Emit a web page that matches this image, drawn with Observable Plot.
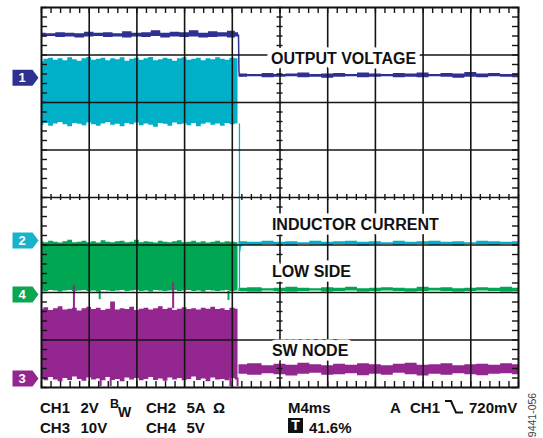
<!DOCTYPE html>
<html><head><meta charset="utf-8">
<script src="https://cdn.jsdelivr.net/npm/d3@7"></script>
<script src="https://cdn.jsdelivr.net/npm/@observablehq/plot@0.6"></script>
<style>
body{margin:0;background:#fff;}
#wrap{position:relative;width:543px;height:438px;font-family:"Liberation Sans",Arial,sans-serif;font-weight:bold;color:#111;overflow:hidden;}
#wrap svg{display:block}
.t{position:absolute;font-size:15px;line-height:15px;white-space:pre;}
</style></head><body><div id="wrap"><div id="chart"></div>
<span class="t" style="left:40px;top:400px">CH1</span>
<span class="t" style="left:80.5px;top:400px">2V</span>
<span class="t" style="left:110px;top:397.5px;font-size:12.5px;line-height:12px">B</span>
<span class="t" style="left:118px;top:405px;font-size:14px;line-height:14px">W</span>
<span class="t" style="left:146px;top:400px">CH2</span>
<span class="t" style="left:186.5px;top:400px">5A</span>
<span class="t" style="left:213px;top:400px">Ω</span>
<span class="t" style="left:288px;top:400px">M4ms</span>
<span class="t" style="left:390px;top:400px">A</span>
<span class="t" style="left:410px;top:400px">CH1</span>
<svg style="position:absolute;left:443px;top:398px" width="22" height="18"><polyline points="2,3 8,3 13,14.5 20,14.5" fill="none" stroke="#111" stroke-width="2"/></svg>
<span class="t" style="left:469px;top:400px">720mV</span>
<span class="t" style="left:40px;top:420px">CH3</span>
<span class="t" style="left:80.5px;top:420px">10V</span>
<span class="t" style="left:146px;top:420px">CH4</span>
<span class="t" style="left:186.5px;top:420px">5V</span>
<span class="t" style="left:288px;top:418px;width:15px;height:15px;background:#111;color:#fff;text-align:center;font-size:14px;line-height:15px">T</span>
<span class="t" style="left:309px;top:420px">41.6%</span>
<span class="t" style="left:531.5px;top:414.5px;font-size:10.5px;line-height:11px;font-weight:normal;color:#444;transform:translate(-50%,-50%) rotate(-90deg)">9441-056</span>
</div>
<script>
// time samples in screen divisions (10 div = 40 ms at 4 ms/div)
const tPre = [0,0.1,0.2,0.3,0.4,0.5,0.6,0.7,0.8,0.9,1.0,1.1,1.2,1.3,1.4,1.5,1.6,1.7,1.8,1.9,2.0,2.1,2.2,2.3,2.4,2.5,2.6,2.7,2.8,2.9,3.0,3.1,3.2,3.3,3.4,3.5,3.6,3.7,3.8,3.9,4.0,4.12];
const tPreCoarse = [0,0.2,0.4,0.6,0.8,1.0,1.2,1.4,1.6,1.8,2.0,2.2,2.4,2.6,2.8,3.0,3.2,3.4,3.6,3.8,4.0,4.13];
const tPost = [4.14,4.5,4.75,5,5.25,5.5,5.75,6,6.25,6.5,6.75,7,7.25,7.5,7.75,8,8.25,8.5,8.75,9,9.25,9.5,9.75,10];

// CH1 output voltage (divisions)
const ch1PreHigh = [3.46,3.45,3.47,3.46,3.45,3.48,3.46,3.47,3.45,3.49,3.46,3.47,3.51,3.46,3.48,3.47,3.51,3.46,3.49,3.47,3.50,3.47];
const ch1PreLow  = [3.38,3.39,3.37,3.38,3.36,3.38,3.39,3.37,3.38,3.36,3.38,3.37,3.39,3.36,3.38,3.37,3.38,3.36,3.37,3.38,3.36,3.38];
const ch1PostHigh = [2.60,2.59,2.61,2.59,2.60,2.62,2.59,2.60,2.61,2.59,2.62,2.60,2.59,2.61,2.60,2.62,2.59,2.61,2.60,2.63,2.60,2.61,2.59,2.60];
const ch1PostLow  = [2.53,2.54,2.52,2.53,2.54,2.52,2.53,2.51,2.53,2.54,2.52,2.53,2.54,2.52,2.53,2.52,2.54,2.53,2.51,2.53,2.52,2.54,2.53,2.52];
const ch1DropT = [4.13,4.14,4.16,4.2];
const ch1DropV = [3.42,2.64,2.57,2.56];

// CH2 inductor current
const ch2PreHigh = [2.86,2.91,2.93,2.89,2.92,2.88,2.94,2.90,2.87,2.92,2.95,2.89,2.91,2.93,2.88,2.92,2.90,2.94,2.87,2.91,2.93,2.89,2.92,2.95,2.88,2.90,2.93,2.91,2.87,2.92,2.94,2.89,2.91,2.93,2.88,2.92,2.90,2.94,2.91,2.89,2.93,2.92];
const ch2PreLow  = [1.52,1.56,1.50,1.55,1.58,1.53,1.49,1.56,1.54,1.51,1.57,1.53,1.50,1.55,1.58,1.52,1.54,1.49,1.56,1.53,1.57,1.51,1.55,1.52,1.48,1.56,1.54,1.50,1.57,1.53,1.55,1.51,1.56,1.49,1.54,1.57,1.52,1.55,1.50,1.56,1.53,1.55];
const ch2PostHigh = [-0.93,-0.94,-0.92,-0.94,-0.93,-0.95,-0.92,-0.94,-0.93,-0.92,-0.94,-0.93,-0.95,-0.92,-0.94,-0.93,-0.92,-0.94,-0.93,-0.95,-0.92,-0.93,-0.94,-0.93];
const ch2PostLow  = [-1.00,-1.01,-0.99,-1.00,-1.02,-0.99,-1.00,-1.01,-0.99,-1.00,-1.02,-1.00,-0.99,-1.01,-1.00,-0.99,-1.01,-1.00,-1.02,-0.99,-1.00,-1.01,-0.99,-1.00];
const ch2DropT = [4.15,4.15];
const ch2DropV = [1.55,-1.95];
const ch2KneeT = [4.15,4.17,4.2,4.25];
const ch2KneeV = [-1.15,-1.04,-0.99,-0.97];

// CH4 low side gate
const ch4PreHigh = [-0.93,-0.95,-0.92,-0.94,-0.96,-0.93,-0.90,-0.95,-0.94,-0.92,-0.95,-0.93,-0.96,-0.91,-0.94,-0.95,-0.93,-0.92,-0.95,-0.94,-0.90,-0.95,-0.93,-0.94,-0.96,-0.92,-0.94,-0.95,-0.93,-0.91,-0.95,-0.94,-0.92,-0.95,-0.93,-0.96,-0.94,-0.92,-0.95,-0.93,-0.94,-0.95];
const ch4PreLow  = [-1.97,-1.98,-1.96,-1.97,-1.99,-1.97,-1.96,-1.98,-1.97,-1.96,-1.98,-1.97,-1.99,-1.96,-1.97,-1.98,-1.97,-1.96,-1.98,-1.97,-1.96,-1.98,-1.97,-1.99,-1.96,-1.97,-1.98,-1.97,-1.96,-1.98,-1.97,-1.96,-1.98,-1.97,-1.99,-1.96,-1.97,-1.98,-1.97,-1.96,-1.98,-1.97];
const ch4PostHigh = [-1.91,-1.90,-1.92,-1.91,-1.89,-1.91,-1.92,-1.90,-1.91,-1.89,-1.92,-1.91,-1.90,-1.91,-1.92,-1.89,-1.91,-1.90,-1.92,-1.91,-1.90,-1.91,-1.89,-1.91];
const ch4PostLow  = [-1.98,-1.99,-1.97,-1.98,-1.99,-1.98,-1.97,-1.99,-1.98,-1.97,-1.99,-1.98,-1.97,-1.98,-1.99,-1.98,-1.97,-1.98,-1.99,-1.98,-1.97,-1.98,-1.99,-1.98];

// CH3 switch node
const ch3PreHigh = [-2.36,-2.32,-2.38,-2.34,-2.30,-2.37,-2.35,-2.33,-2.39,-2.34,-2.31,-2.36,-2.33,-2.38,-2.35,-2.20,-2.37,-2.34,-2.36,-2.31,-2.38,-2.35,-2.33,-2.37,-2.34,-2.30,-2.36,-2.33,-2.38,-2.35,-2.32,-2.36,-2.34,-2.37,-2.33,-2.35,-2.31,-2.36,-2.34,-2.38,-2.33,-2.35];
const ch3PreLow  = [-3.82,-3.86,-3.79,-3.84,-3.88,-3.81,-3.85,-3.78,-3.83,-3.87,-3.80,-3.84,-3.82,-3.86,-3.79,-3.85,-3.83,-3.88,-3.80,-3.84,-3.81,-3.86,-3.83,-3.79,-3.85,-3.82,-3.87,-3.80,-3.84,-3.81,-3.86,-3.83,-3.78,-3.85,-3.82,-3.88,-3.80,-3.84,-3.83,-3.86,-3.81,-3.84];
const ch3PostHigh = [-3.52,-3.50,-3.54,-3.51,-3.53,-3.49,-3.52,-3.54,-3.51,-3.53,-3.50,-3.52,-3.54,-3.51,-3.49,-3.53,-3.52,-3.50,-3.54,-3.52,-3.51,-3.53,-3.50,-3.52];
const ch3PostLow  = [-3.72,-3.74,-3.71,-3.73,-3.76,-3.72,-3.70,-3.74,-3.73,-3.71,-3.75,-3.72,-3.74,-3.70,-3.73,-3.76,-3.72,-3.74,-3.71,-3.73,-3.75,-3.72,-3.71,-3.73];

// glitches
const spikeT    = [0.68,2.76,1.24,1.45,3.96,4.11,1.22,3.92];
const spikeFrom = [-2.34,-2.34,-3.80,-3.80,-3.80,-3.80,-1.97,-1.97];
const spikeTo   = [-1.85,-1.80,-3.98,-3.98,-3.98,-3.98,-2.15,-2.17];
const spikeCh   = ["CH3","CH3","CH3","CH3","CH3","CH3","CH4","CH4"];

// trace labels
const labelText = ["OUTPUT VOLTAGE","INDUCTOR CURRENT","LOW SIDE","SW NODE"];
const labelT = [4.81,4.83,4.83,4.83];
const labelV = [2.91,-0.57,-1.56,-3.23];

// channel ground markers
const markerName = ["1","2","4","3"];
const markerV = [2.52,-0.905,-2.04,-3.81];

const gridX = [1,2,3,4,5,6,7,8,9];
const gridY = [-3,-2,-1,0,1,2,3];
const minorX = d3.range(0, 10.001, 0.2);
const minorY = d3.range(-4, 4.001, 0.2);

const BLUE = "#2e3192", CYAN = "#00b0c9", GREEN = "#00a651", PURPLE = "#93278f";
const chColor = {CH1: BLUE, CH2: CYAN, CH3: PURPLE, CH4: GREEN};
const markerColor = [BLUE, "#17b3cd", "#0aa650", PURPLE];

const band = (t, lo, hi, color) => Plot.areaY(t, {x: d => d, y1: (d, i) => lo[i], y2: (d, i) => hi[i], fill: color, curve: "step"});

const pent = {draw(ctx) { ctx.moveTo(-13,-8); ctx.lineTo(7,-8); ctx.lineTo(13,0); ctx.lineTo(7,8); ctx.lineTo(-13,8); ctx.closePath(); }};
const markerT = -0.335;
const GRID = "#151515";

const chart = Plot.plot({
  width: 543, height: 395,
  marginLeft: 41, marginRight: 25, marginTop: 7, marginBottom: 8,
  x: {domain: [0, 10], axis: null},
  y: {domain: [-4, 4], axis: null},
  style: {background: "white", overflow: "visible"},
  marks: [
    band(tPre, ch2PreLow, ch2PreHigh, CYAN),
    band(tPreCoarse, ch1PreLow, ch1PreHigh, BLUE),
    band(tPost, ch1PostLow, ch1PostHigh, BLUE),
    Plot.line(ch1DropT, {x: d => d, y: (d, i) => ch1DropV[i], stroke: BLUE, strokeWidth: 1.5}),
    band(tPre, ch4PreLow, ch4PreHigh, GREEN),
    band(tPost, ch4PostLow, ch4PostHigh, GREEN),
    Plot.line(ch2DropT, {x: d => d, y: (d, i) => ch2DropV[i], stroke: CYAN, strokeWidth: 1.3}),
    Plot.line(ch2KneeT, {x: d => d, y: (d, i) => ch2KneeV[i], stroke: CYAN, strokeWidth: 1.3}),
    band(tPost, ch2PostLow, ch2PostHigh, CYAN),
    band(tPre, ch3PreLow, ch3PreHigh, PURPLE),
    band(tPost, ch3PostLow, ch3PostHigh, PURPLE),
    Plot.ruleX(spikeT, {x: d => d, y1: (d, i) => spikeFrom[i], y2: (d, i) => spikeTo[i], stroke: (d, i) => chColor[spikeCh[i]], strokeWidth: 2}),
    // graticule
    Plot.ruleX(gridX, {x: d => d, stroke: GRID, strokeWidth: 1.6}),
    Plot.ruleY(gridY, {y: d => d, stroke: GRID, strokeWidth: 1.6}),
    Plot.ruleX(minorX, {x: d => d, y1: 0, y2: 0, insetTop: -3, insetBottom: -3, stroke: GRID, strokeWidth: 1.4}),
    Plot.ruleY(minorY, {y: d => d, x1: 5, x2: 5, insetLeft: -3, insetRight: -3, stroke: GRID, strokeWidth: 1.4}),
    Plot.ruleX(minorX, {x: d => d, y1: 4, y2: 4, insetBottom: -6, stroke: GRID, strokeWidth: 1.4}),
    Plot.ruleX(minorX, {x: d => d, y1: -4, y2: -4, insetTop: -6, stroke: GRID, strokeWidth: 1.4}),
    Plot.ruleY(minorY, {y: d => d, x1: 0, x2: 0, insetRight: -6, stroke: GRID, strokeWidth: 1.4}),
    Plot.ruleY(minorY, {y: d => d, x1: 10, x2: 10, insetLeft: -6, stroke: GRID, strokeWidth: 1.4}),
    Plot.frame({stroke: "#111", strokeWidth: 2}),
    Plot.text(labelText, {x: (d, i) => labelT[i], y: (d, i) => labelV[i], text: d => d, textAnchor: "start",
      fontSize: 16, fontWeight: "bold", fontFamily: "Liberation Sans, Arial, sans-serif", fill: "#111", stroke: "white", strokeWidth: 9}),
    ...markerName.map((m, i) => Plot.dot([m], {x: () => markerT, y: () => markerV[i], symbol: pent, r: 5, fill: markerColor[i]})),
    Plot.text(markerName, {x: () => -0.405, y: (d, i) => markerV[i], text: d => d, fill: "white", fontSize: 13, fontWeight: "bold",
      fontFamily: "Liberation Sans, Arial, sans-serif"})
  ]
});
document.getElementById("chart").appendChild(chart);
</script></body></html>
